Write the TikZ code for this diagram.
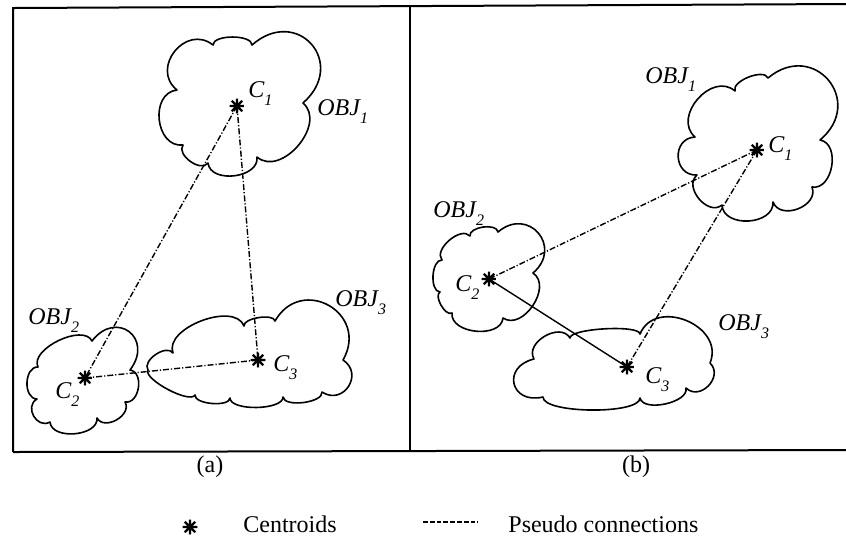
\documentclass[tikz,border=0pt]{standalone}
\usepackage{fontspec}
\setmainfont{Liberation Serif}
\newcommand\figfont{\fontsize{12}{14}\selectfont}
\newcommand\lowsub[1]{\raisebox{-4pt}{\fontsize{8}{9}\selectfont #1}}
\tikzset{
  cloudline/.style={line width=0.8pt, line join=round},
  bump/.style={bend left=90, looseness=#1},
  pseudo/.style={line width=0.7pt, dash pattern=on 3pt off 1pt on 0.6pt off 1pt},
  link/.style={line width=0.7pt},
  keydash/.style={line width=0.6pt, dash pattern=on 2.4pt off 1pt},
  frame/.style={line width=1pt},
  centroid/.style={circle, inner sep=0pt, minimum size=7.5pt,
    path picture={\draw[line width=1.1pt]
      (path picture bounding box.north) -- (path picture bounding box.south)
      (path picture bounding box.east) -- (path picture bounding box.west)
      (path picture bounding box.north east) -- (path picture bounding box.south west)
      (path picture bounding box.north west) -- (path picture bounding box.south east);}},
  txt/.style={inner sep=0pt, font=\figfont},
  lbl/.style={anchor=base west, inner sep=0pt, font=\figfont\itshape},
}
\begin{document}
\begin{tikzpicture}[x=0.5pt, y=-0.5pt]
\useasboundingbox (0,0) rectangle (846,538);

% panel frames
\draw[frame] (13,452) -- (13,8) -- (846,4);
\draw[frame] (13,452) -- (846,450);
\draw[frame] (410,6) -- (410,451);

% ---- panel (a): objects ----
\draw[cloudline] (177,90) to[bump=1.54] (213,45) to[bump=0.7] (252,45)
  to[bump=1.99] (303,103) to[bump=1.15] (257,157) to[bump=1.1] (208,163)
  to[bump=1.0] (183,145) to[bump=1.29] (177,90) -- cycle;
\draw[cloudline] (92,341) to[bump=2.14] (130,370) to[bump=1.16] (125,402)
  to[bump=1.2] (97,418) to[bump=1.0] (50,422) to[bump=1.46] (37,399)
  to[bump=1.12] (38,367) to[bump=0.85] (92,341) -- cycle;
\draw[cloudline] (148,370) to[bump=0.96] (173,353) to[bump=0.9] (244,326)
  to[bump=0.65] (275,321) to[bump=1.75] (343,360) to[bump=1.7] (322,392)
  to[bump=0.7] (283,397) to[bump=0.64] (230,398) to[bump=0.68] (195,395)
  to[bump=0.5] (148,370) -- cycle;

% ---- panel (b): objects ----
\draw[cloudline] (735,91) to[bump=0.77] (768,78) to[bump=1.89] (820,140)
  to[bump=1.14] (812,187) to[bump=1.25] (773,202) to[bump=1.17] (722,205)
  to[bump=1.2] (697,175) to[bump=1.6] (695,137) to[bump=1.28] (735,91) -- cycle;
\draw[cloudline] (442,260) to[bump=0.95] (470,236) to[bump=0.85] (498,232)
  to[bump=1.9] (533,273) to[bump=1.13] (503,318) to[bump=1.05] (452,313)
  to[bump=0.8] (440,292) to[bump=0.85] (442,260) -- cycle;
\draw[cloudline] (640,334) to[bump=1.36] (710,363) to[bump=1.44] (686,388)
  to[bump=0.81] (640,398) to[bump=0.44] (543,397) to[bump=2.2] (534,359)
  to[bump=1.17] (570,338) to[bump=0.35] (640,334) -- cycle;

% centroids
\node[centroid] (a1) at (237,106) {};
\node[centroid] (a2) at (85,378) {};
\node[centroid] (a3) at (258,360) {};
\node[centroid] (b1) at (757,150) {};
\node[centroid] (b2) at (489,279) {};
\node[centroid] (b3) at (627,367) {};

% connections
\draw[pseudo] (a1.center) -- (a2.center);
\draw[pseudo] (a1.center) -- (a3.center);
\draw[pseudo] (a2.center) -- (a3.center);
\draw[pseudo] (b1.center) -- (b2.center);
\draw[pseudo] (b1.center) -- (b3.center);
\draw[link] (b2.center) -- (b3.center);

% labels, panel (a)
\node[lbl] (ta1) at (248,97) {C\lowsub{1}};
\node[lbl] (oa1) at (317,115) {OBJ\lowsub{1}};
\node[lbl] (oa2) at (28,324) {OBJ\lowsub{2}};
\node[lbl] (ta2) at (55,398) {C\lowsub{2}};
\node[lbl] (oa3) at (335,306) {OBJ\lowsub{3}};
\node[lbl] (ta3) at (273,371) {C\lowsub{3}};

% labels, panel (b)
\node[lbl] (ob1) at (645,83) {OBJ\lowsub{1}};
\node[lbl] (tb1) at (768,152) {C\lowsub{1}};
\node[lbl] (ob2) at (433,217) {OBJ\lowsub{2}};
\node[lbl] (tb2) at (455,291) {C\lowsub{2}};
\node[lbl] (ob3) at (718,330) {OBJ\lowsub{3}};
\node[lbl] (tb3) at (645,383) {C\lowsub{3}};

% captions
\node[txt] (capa) at (210,467) {(a)};
\node[txt] (capb) at (636,467) {(b)};

% legend
\node[centroid] (keystar) at (190,527) {};
\node[txt, anchor=base west] (keystartext) at (243,532) {Centroids};
\coordinate (keyL) at (423,522);
\coordinate (keyR) at (478,522);
\draw[keydash] (keyL) -- (keyR);
\node[txt, anchor=base west] (keydashtext) at (508,532) {Pseudo connections};
\end{tikzpicture}
\end{document}
